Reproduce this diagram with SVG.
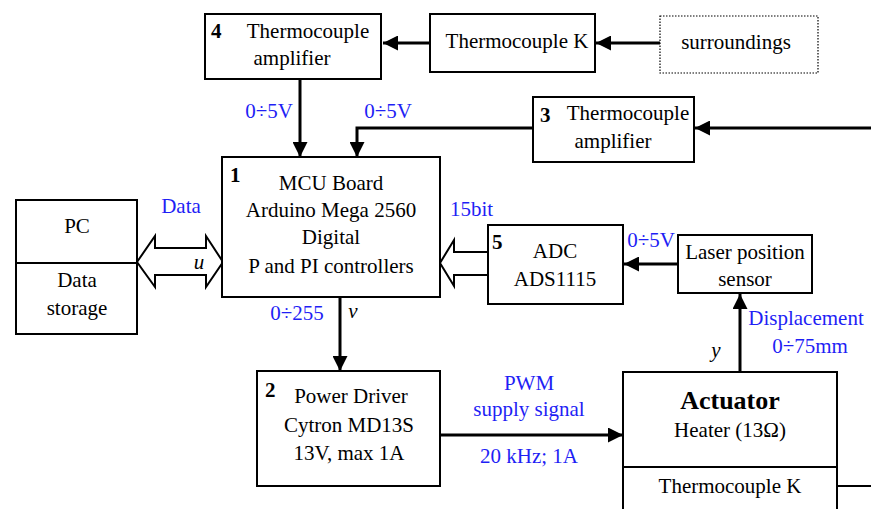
<svg xmlns="http://www.w3.org/2000/svg" width="871" height="509" viewBox="0 0 871 509" font-family="Liberation Serif, Times New Roman, serif" font-size="21">
<style>
  .c { text-anchor: middle; }
  .b { font-weight: bold; }
  .i { font-style: italic; }
  .blue { fill: #1f1ff5; }
  .box { fill: #fff; stroke: #000; stroke-width: 2; }
  .dot { fill: #fff; stroke: #000; stroke-width: 1.2; stroke-dasharray: 1.5 1.5; }
  .ln { fill: none; stroke: #000; stroke-width: 3; }
  .hollow { fill: #fff; stroke: #000; stroke-width: 2; stroke-linejoin: miter; }
</style>
<defs>
  <marker id="ah" viewBox="0 0 10 10" refX="10" refY="5" markerWidth="5" markerHeight="5" markerUnits="strokeWidth" orient="auto">
    <path d="M0,0 L10,5 L0,10 Z" fill="#000"/>
  </marker>
</defs>
<rect width="871" height="509" fill="#fff"/>

<g id="connectors">
  <line class="ln" x1="660" y1="43" x2="596" y2="43" marker-end="url(#ah)"/>
  <line class="ln" x1="430" y1="43" x2="383" y2="43" marker-end="url(#ah)"/>
  <line class="ln" x1="871" y1="128" x2="695" y2="128" marker-end="url(#ah)"/>
  <line class="ln" x1="300" y1="79" x2="300" y2="157" marker-end="url(#ah)"/>
  <polyline class="ln" points="533,128 357,128 357,157" marker-end="url(#ah)"/>
  <line class="ln" x1="340" y1="297" x2="340" y2="371" marker-end="url(#ah)"/>
  <line class="ln" x1="440" y1="435" x2="623" y2="435" marker-end="url(#ah)"/>
  <line class="ln" x1="678" y1="264" x2="624" y2="264" marker-end="url(#ah)"/>
  <line class="ln" x1="740" y1="372" x2="740" y2="294" marker-end="url(#ah)"/>
  <line x1="837" y1="486" x2="871" y2="486" stroke="#000" stroke-width="2"/>
  <path class="hollow" d="M137,262 L155,236 L155,248 L206,248 L206,236 L223,262 L206,287 L206,275 L155,275 L155,287 Z"/>
  <path class="hollow" d="M440,263 L454,240 L454,252 L488,252 L488,275 L454,275 L454,286 Z"/>
  <text class="blue c" x="181" y="213">Data</text>
  <text class="i c" x="199" y="269">u</text>
  <text class="blue c" x="269" y="118">0÷5V</text>
  <text class="blue c" x="388" y="118">0÷5V</text>
  <text class="blue" x="450" y="216">15bit</text>
  <text class="blue c" x="651" y="247">0÷5V</text>
  <text class="blue c" x="297" y="320">0÷255</text>
  <text class="i c" x="353" y="318">v</text>
  <text class="blue c" x="806" y="325">Displacement</text>
  <text class="blue c" x="810" y="353">0÷75mm</text>
  <text class="i c" x="716" y="357">y</text>
  <text class="blue c" x="529" y="390">PWM</text>
  <text class="blue c" x="529" y="416">supply signal</text>
  <text class="blue c" x="529" y="463">20 kHz; 1A</text>
</g>

<g id="amp4">
  <rect class="box" x="205" y="14" width="176" height="65"/>
  <text class="b" x="211" y="38">4</text>
  <text class="c" x="308" y="38">Thermocouple</text>
  <text class="c" x="292" y="65">amplifier</text>
</g>

<g id="thermocoupleK">
  <rect class="box" x="430" y="14" width="165" height="58"/>
  <text class="c" x="517" y="48">Thermocouple K</text>
</g>

<g id="surroundings">
  <rect class="dot" x="660" y="16" width="158" height="57"/>
  <text class="c" x="736" y="49">surroundings</text>
</g>

<g id="amp3">
  <rect class="box" x="533" y="97" width="161" height="65"/>
  <text class="b" x="540" y="122">3</text>
  <text class="c" x="628" y="120">Thermocouple</text>
  <text class="c" x="613" y="148">amplifier</text>
</g>

<g id="mcu">
  <rect class="box" x="222" y="157" width="218" height="140"/>
  <text class="b" x="230" y="182">1</text>
  <text class="c" x="331" y="190">MCU Board</text>
  <text class="c" x="331" y="217">Arduino Mega 2560</text>
  <text class="c" x="331" y="244">Digital</text>
  <text class="c" x="331" y="273">P and PI controllers</text>
</g>

<g id="pc">
  <rect class="box" x="16" y="200" width="121" height="134"/>
  <line x1="16" y1="263" x2="137" y2="263" stroke="#000" stroke-width="2"/>
  <text class="c" x="77" y="233">PC</text>
  <text class="c" x="77" y="287">Data</text>
  <text class="c" x="77" y="315">storage</text>
</g>

<g id="adc">
  <rect class="box" x="488" y="225" width="135" height="79"/>
  <text class="b" x="492" y="249">5</text>
  <text class="c" x="555" y="258">ADC</text>
  <text class="c" x="555" y="286">ADS1115</text>
</g>

<g id="laser">
  <rect class="box" x="678" y="235" width="134" height="58"/>
  <text class="c" x="745" y="259">Laser position</text>
  <text class="c" x="745" y="286">sensor</text>
</g>

<g id="driver">
  <rect class="box" x="257" y="371" width="183" height="115"/>
  <text class="b" x="265" y="397">2</text>
  <text class="c" x="351" y="403">Power Driver</text>
  <text class="c" x="349" y="432">Cytron MD13S</text>
  <text class="c" x="349" y="460">13V, max 1A</text>
</g>

<g id="actuator">
  <rect class="box" x="623" y="372" width="214" height="150"/>
  <line x1="623" y1="467" x2="837" y2="467" stroke="#000" stroke-width="2"/>
  <text class="b c" x="730" y="409" font-size="26">Actuator</text>
  <text class="c" x="730" y="437">Heater (13Ω)</text>
  <text class="c" x="730" y="493">Thermocouple K</text>
</g>
</svg>
